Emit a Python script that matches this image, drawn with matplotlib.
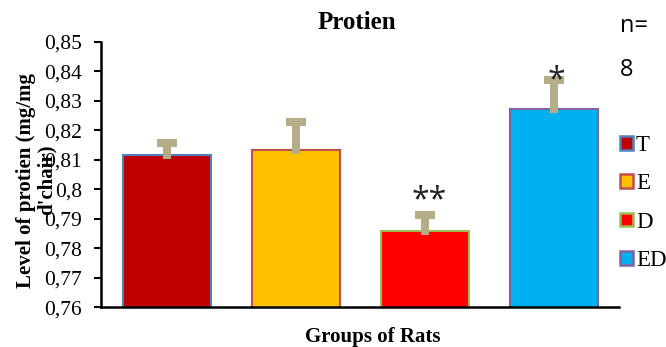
import matplotlib.pyplot as plt
from matplotlib.patches import Patch

groups = ["T", "E", "D", "ED"]
means = [0.8116, 0.8135, 0.7860, 0.8272]
errors = [0.0040, 0.0095, 0.0054, 0.0099]
stars = ["", "", "**", "*"]
yticks = [0.76, 0.77, 0.78, 0.79, 0.80, 0.81, 0.82, 0.83, 0.84, 0.85]
ytick_labels = ["0,76", "0,77", "0,78", "0,79", "0,8", "0,81", "0,82", "0,83", "0,84", "0,85"]

face_colors = ["#C00000", "#FFC000", "#FF0000", "#00B0F0"]
edge_colors = ["#4F81BD", "#C0504D", "#9BBB59", "#8064A2"]
err_color = "#B5AD88"

serif = ["Liberation Serif", "DejaVu Serif"]
sans = ["Open Sans", "DejaVu Sans"]

fig = plt.figure(figsize=(6.66, 3.47), dpi=100)
ax = fig.add_axes([0.152, 0.115, 0.777, 0.764])

x = list(range(len(groups)))
ax.bar(x, means, width=0.68, color=face_colors, edgecolor=edge_colors,
       linewidth=1.5, zorder=2)

# upper-only error bars, thick stem + thick cap
tops = [m + e for m, e in zip(means, errors)]
stems = ax.vlines(x, means, tops, colors=err_color, linewidth=5.8, zorder=3)
stems.set_capstyle("projecting")
ax.hlines(tops, [xi - 0.078 for xi in x], [xi + 0.078 for xi in x],
          colors=err_color, linewidth=5.8, zorder=3)

# star placement relative to the cap (tuned by eye)
star_dy = [0, 0, 0.0048, -0.0003]
star_dx = [0, 0, 0.03, 0.02]
for xi, t, s, dy, dx in zip(x, tops, stars, star_dy, star_dx):
    if s:
        ax.text(xi + dx, t + dy, s, ha="center", va="center",
                fontsize=23, family=sans, color="#222222", zorder=4)

ax.set_xlim(-0.51, 3.5)
ax.set_ylim(0.76, 0.85)
ax.set_yticks(yticks)
ax.set_yticklabels(ytick_labels, family=serif, fontsize=15.5)
ax.set_xticks([])
ax.tick_params(axis="y", direction="out", length=5, width=1.5, pad=9)
for side in ["top", "right"]:
    ax.spines[side].set_visible(False)
for side in ["left", "bottom"]:
    ax.spines[side].set_linewidth(1.8)

fig.text(0.536, 0.934, "Protien", ha="center", va="center",
         family=serif, fontweight="bold", fontsize=18)
fig.text(0.56, 0.029, "Groups of Rats", ha="center", va="center",
         family=serif, fontweight="bold", fontsize=15)

fig.text(0.055, 0.481, "Level of protien (mg/mg\nd'chair)", rotation=90,
         ha="center", va="center", multialignment="center",
         family=serif, fontweight="bold", fontsize=15, linespacing=1.05)

fig.text(0.931, 0.908, "n=", family=sans, fontsize=17, va="baseline")
fig.text(0.931, 0.781, "8", family=sans, fontsize=17, va="baseline")

handles = [Patch(facecolor=f, edgecolor=e, linewidth=1.8) for f, e in zip(face_colors, edge_colors)]
fig.legend(handles, groups, loc="center left", bbox_to_anchor=(0.931, 0.415),
           frameon=False, handlelength=0.55, handleheight=0.55, handletextpad=0.15,
           labelspacing=0.75, borderpad=0, borderaxespad=0,
           prop={"family": serif, "size": 16.5})

fig.savefig("out.png", dpi=100)
